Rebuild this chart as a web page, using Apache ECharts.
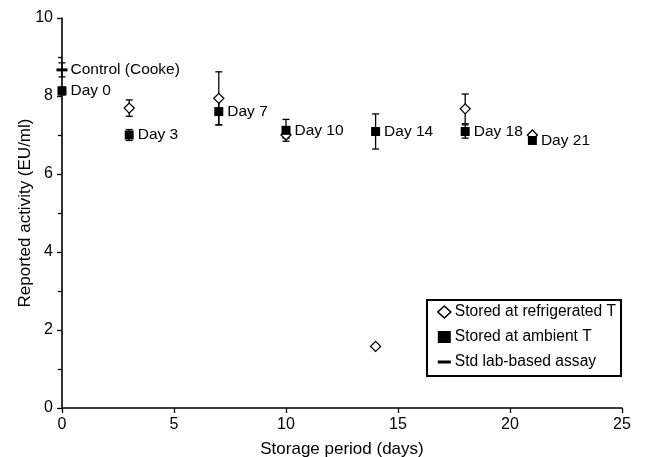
<!DOCTYPE html>
<html><head><meta charset="utf-8">
<script src="https://cdn.jsdelivr.net/npm/echarts@6/dist/echarts.min.js"></script>
<style>html,body{margin:0;padding:0;background:#fff}#c{width:647px;height:457px}</style>
</head><body><div id="c"></div>
<script>
// Data
const refrigDays = [3, 7, 10, 14, 18, 21];
const refrigMean = [7.69, 7.94, 7.0, 1.58, 7.67, 7.0];
const refrigErr  = [0.21, 0.68, 0.08, 0.05, 0.38, 0.03];

const ambientDays = [0, 3, 7, 10, 14, 18, 21];
const ambientMean = [8.13, 7.0, 7.6, 7.12, 7.09, 7.09, 6.86];
const ambientErr  = [0.1, 0.14, 0.34, 0.28, 0.45, 0.17, 0.05];
const dayLabels   = ['Day 0', 'Day 3', 'Day 7', 'Day 10', 'Day 14', 'Day 18', 'Day 21'];

const controlDay = [0];
const controlMean = [8.67];
const controlErr = [0.18];
const controlLabel = ['Control (Cooke)'];

const xTicks = [0, 5, 10, 15, 20, 25];
const yTicks = [0, 2, 4, 6, 8, 10];

const FONT = 'Liberation Sans, Arial, sans-serif';

function errData(days, mean, err) {
  return days.map((d, i) => [d, mean[i] - err[i], mean[i] + err[i]]);
}
function errSeries(days, mean, err) {
  return {
    type: 'custom', silent: true, z: 1,
    data: errData(days, mean, err),
    renderItem: function (params, api) {
      const x = api.value(0);
      const p1 = api.coord([x, api.value(1)]);
      const p2 = api.coord([x, api.value(2)]);
      const w = 3.5;
      const st = { stroke: '#000', lineWidth: 1.3, fill: null };
      return { type: 'group', children: [
        { type: 'line', shape: { x1: p1[0], y1: p1[1], x2: p2[0], y2: p2[1] }, style: st },
        { type: 'line', shape: { x1: p1[0] - w, y1: p1[1], x2: p1[0] + w, y2: p1[1] }, style: st },
        { type: 'line', shape: { x1: p2[0] - w, y1: p2[1], x2: p2[0] + w, y2: p2[1] }, style: st }
      ]};
    }
  };
}

const chart = echarts.init(document.getElementById('c'), null, { renderer: 'canvas' });
chart.setOption({
  animation: false,
  backgroundColor: '#fff',
  textStyle: { fontFamily: FONT },
  grid: { left: 62, right: 25, top: 18, bottom: 49, containLabel: false, outerBoundsMode: 'none' },
  xAxis: {
    type: 'value', min: xTicks[0], max: xTicks[xTicks.length - 1], interval: 5,
    name: 'Storage period (days)', nameLocation: 'middle', nameGap: 33, nameMoveOverlap: false,
    nameTextStyle: { color: '#000', fontSize: 17, fontFamily: FONT },
    axisLine: { onZero: false, lineStyle: { color: '#000', width: 1.6 } },
    axisTick: { show: true, length: 5, lineStyle: { color: '#000', width: 1.3 } },
    axisLabel: { color: '#000', fontSize: 16, fontFamily: FONT, margin: 9 },
    splitLine: { show: false }
  },
  yAxis: {
    type: 'value', min: yTicks[0], max: yTicks[yTicks.length - 1], interval: 2,
    name: 'Reported activity (EU/ml)', nameLocation: 'middle', nameGap: 28, nameMoveOverlap: false,
    nameTextStyle: { color: '#000', fontSize: 17, fontFamily: FONT },
    axisLine: { show: true, onZero: false, lineStyle: { color: '#000', width: 1.6 } },
    axisTick: { show: true, length: 5, lineStyle: { color: '#000', width: 1.3 } },
    minorTick: { show: true, splitNumber: 2, length: 4, lineStyle: { color: '#000', width: 1.3 } },
    axisLabel: { color: '#000', fontSize: 16, fontFamily: FONT, margin: 9 },
    splitLine: { show: false }
  },
  legend: {
    orient: 'vertical', left: 427, top: 300,
    backgroundColor: '#fff', borderColor: '#000', borderWidth: 2,
    padding: [4, 5, 6, 10], itemGap: 9, itemWidth: 13, itemHeight: 12,
    textStyle: { color: '#000', fontSize: 15.6, fontFamily: FONT, padding: [0, 0, 0, -1] },
    data: [
      { name: 'Stored at refrigerated T', icon: 'diamond', itemStyle: { color: '#fff', borderColor: '#000', borderWidth: 1.6 } },
      { name: 'Stored at ambient T', icon: 'rect' },
      { name: 'Std lab-based assay', icon: 'path://M0,4.5 H13 V7.5 H0 Z' }
    ]
  },
  series: [
    errSeries(refrigDays, refrigMean, refrigErr),
    errSeries(ambientDays, ambientMean, ambientErr),
    errSeries(controlDay, controlMean, controlErr),
    {
      name: 'Stored at refrigerated T', type: 'scatter', z: 3,
      symbol: 'diamond', symbolSize: 10,
      itemStyle: { color: '#fff', borderColor: '#000', borderWidth: 1.3, opacity: 1 },
      data: refrigDays.map((d, i) => [d, refrigMean[i]])
    },
    {
      name: 'Stored at ambient T', type: 'scatter', z: 4,
      symbol: 'rect', symbolSize: [9, 9],
      itemStyle: { color: '#000', opacity: 1 },
      label: {
        show: true, position: 'right', distance: 4, color: '#000', fontSize: 15.5, fontFamily: FONT,
        formatter: p => dayLabels[p.dataIndex]
      },
      data: ambientDays.map((d, i) => [d, ambientMean[i]])
    },
    {
      name: 'Std lab-based assay', type: 'scatter', z: 4,
      symbol: 'rect', symbolSize: [11, 3],
      itemStyle: { color: '#000', opacity: 1 },
      label: {
        show: true, position: 'right', distance: 3, color: '#000', fontSize: 15.5, fontFamily: FONT,
        formatter: p => controlLabel[p.dataIndex]
      },
      data: controlDay.map((d, i) => [d, controlMean[i]])
    }
  ]
});
</script></body></html>
